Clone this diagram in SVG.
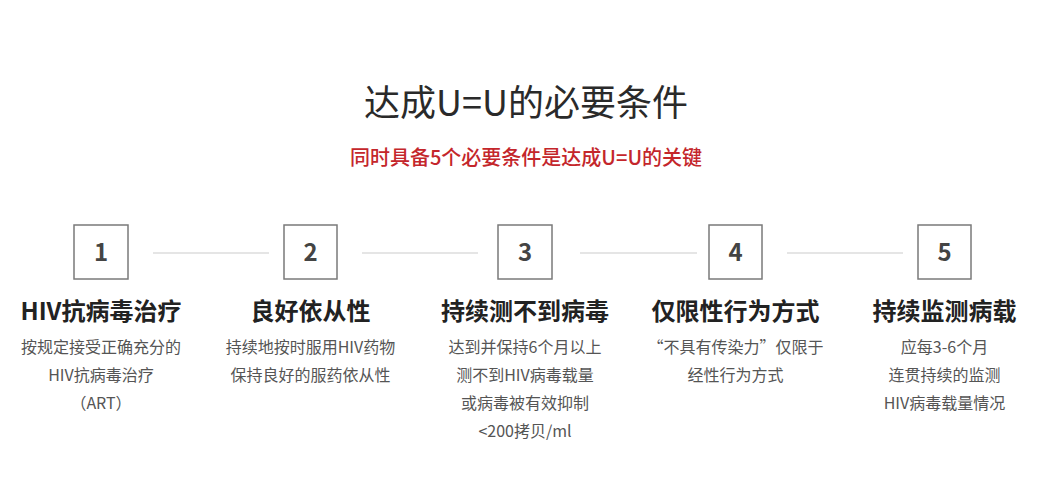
<svg xmlns="http://www.w3.org/2000/svg" width="1050" height="482" viewBox="0 0 1050 482">
<style>
text{font-family:"Noto Sans CJK SC","Noto Sans",sans-serif;text-anchor:middle}
.title{font-size:36px;fill:#2a2a2a}
.sub{font-size:20px;font-weight:500;fill:#c4262b}
.box{fill:#fff;stroke:#7a7a7a;stroke-width:1.5}
.num{font-size:24px;font-weight:bold;fill:#444}
.head{font-size:24px;font-weight:bold;fill:#222}
.desc{font-size:16px;fill:#555}
.conn{stroke:#dcdcdc;stroke-width:1.5}
</style>
<rect width="1050" height="482" fill="#fff"/>
<text class="title" x="526" y="116">达成U=U的必要条件</text>
<text class="sub" x="526" y="165">同时具备5个必要条件是达成U=U的关键</text>
<g id="connectors">
<line class="conn" x1="153" y1="253" x2="269" y2="253"/>
<line class="conn" x1="362" y1="253" x2="478" y2="253"/>
<line class="conn" x1="580" y1="253" x2="697" y2="253"/>
<line class="conn" x1="787" y1="253" x2="903" y2="253"/>
</g>
<g id="node1">
<rect class="box" x="74" y="225" width="54" height="54"/>
<text class="num" x="101" y="261">1</text>
<text class="head" x="101" y="320">HIV抗病毒治疗</text>
<text class="desc" x="101" y="353">按规定接受正确充分的</text>
<text class="desc" x="101" y="381">HIV抗病毒治疗</text>
<text class="desc" x="101" y="409">（ART）</text>
</g>
<g id="node2">
<rect class="box" x="284" y="225" width="53" height="54"/>
<text class="num" x="310.5" y="261">2</text>
<text class="head" x="310.5" y="320">良好依从性</text>
<text class="desc" x="310.5" y="353">持续地按时服用HIV药物</text>
<text class="desc" x="310.5" y="381">保持良好的服药依从性</text>
</g>
<g id="node3">
<rect class="box" x="498" y="225" width="54" height="54"/>
<text class="num" x="525" y="261">3</text>
<text class="head" x="525" y="320">持续测不到病毒</text>
<text class="desc" x="525" y="353">达到并保持6个月以上</text>
<text class="desc" x="525" y="381">测不到HIV病毒载量</text>
<text class="desc" x="525" y="409">或病毒被有效抑制</text>
<text class="desc" x="525" y="437">&lt;200拷贝/ml</text>
</g>
<g id="node4">
<rect class="box" x="709" y="225" width="53" height="54"/>
<text class="num" x="735.5" y="261">4</text>
<text class="head" x="735.5" y="320">仅限性行为方式</text>
<text class="desc" x="735.5" y="353">“不具有传染力”仅限于</text>
<text class="desc" x="735.5" y="381">经性行为方式</text>
</g>
<g id="node5">
<rect class="box" x="918" y="225" width="53" height="54"/>
<text class="num" x="944.5" y="261">5</text>
<text class="head" x="944.5" y="320">持续监测病载</text>
<text class="desc" x="944.5" y="353">应每3-6个月</text>
<text class="desc" x="944.5" y="381">连贯持续的监测</text>
<text class="desc" x="944.5" y="409">HIV病毒载量情况</text>
</g>
</svg>
